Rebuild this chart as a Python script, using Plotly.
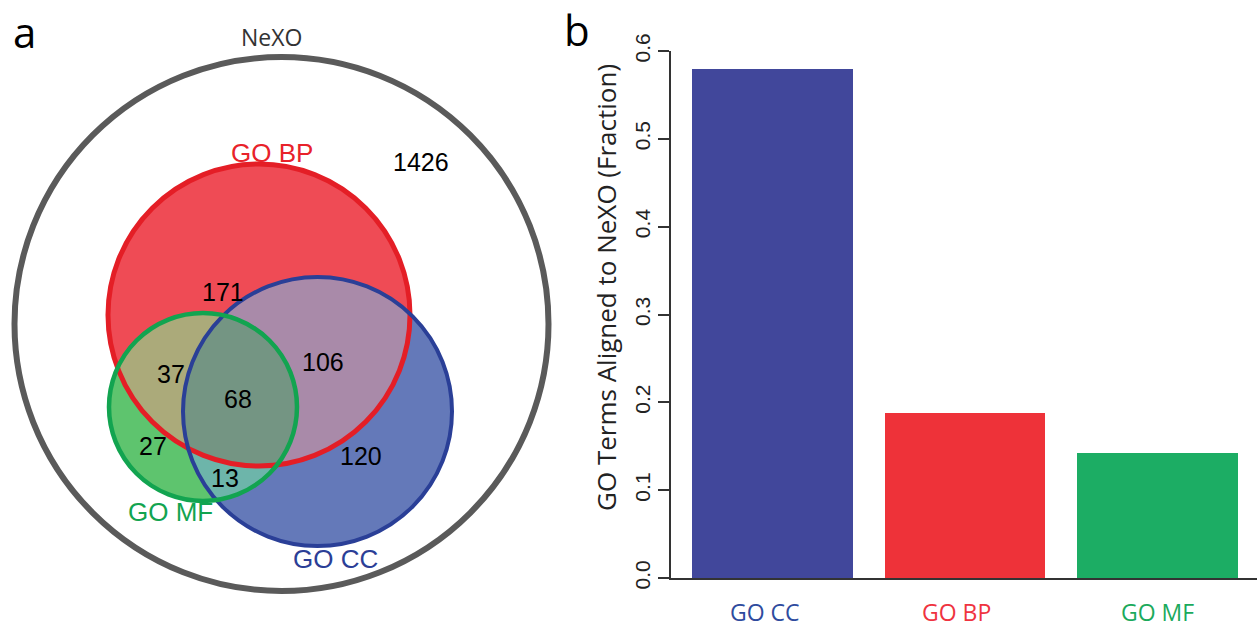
import numpy as np
import plotly.graph_objects as go

# ---------------- data ----------------
bar_categories = ["GO CC", "GO BP", "GO MF"]
bar_values = [0.58, 0.188, 0.142]
bar_colors = ["#41479B", "#EE3239", "#1CAD64"]
bar_label_colors = ["#2E4B9E", "#EF3340", "#1BAA5C"]
ytick_vals = [0.0, 0.1, 0.2, 0.3, 0.4, 0.5, 0.6]
ytick_text = ["0.0", "0.1", "0.2", "0.3", "0.4", "0.5", "0.6"]
y_title = "GO Terms Aligned to NeXO (Fraction)"

venn_set_names = ["NeXO", "GO BP", "GO CC", "GO MF"]
venn_region_names = ["NeXO only", "BP only", "BP&CC", "BP&MF", "BP&CC&MF", "MF only", "CC only", "CC&MF"]
venn_region_counts = [1426, 171, 106, 37, 68, 27, 120, 13]

# ---------------- layout geometry (pixel space) ----------------
W, H = 1257, 630
circ = {
    "NeXO": (281.5, 324.0, 267.0),
    "GO BP": (259.0, 315.0, 151.0),
    "GO CC": (317.5, 411.5, 134.5),
    "GO MF": (203.0, 407.0, 94.0),
}
outline_colors = {"NeXO": "#5A5A5A", "GO BP": "#E41E26", "GO CC": "#2A3F97", "GO MF": "#12A450"}
outline_widths = {"NeXO": 6, "GO BP": 5, "GO CC": 4, "GO MF": 4.5}
fill_single = {"GO BP": "#EF4B55", "GO CC": "#6479B9", "GO MF": "#5EC46E"}
fill_multi = [
    (("GO BP", "GO CC"), "#A98AA9"),
    (("GO BP", "GO MF"), "#ABAA7A"),
    (("GO CC", "GO MF"), "#6DB5AA"),
    (("GO BP", "GO CC", "GO MF"), "#749583"),
]
set_label_pos = {"NeXO": (271.5, 37), "GO BP": (271.5, 153), "GO CC": (335.5, 559), "GO MF": (170.5, 512)}
set_label_font = {"NeXO": "Open Sans", "GO BP": "Liberation Sans", "GO CC": "Liberation Sans", "GO MF": "Liberation Sans"}
set_label_size = {"NeXO": 23, "GO BP": 26, "GO CC": 26, "GO MF": 26}
set_label_color = {"NeXO": "#333333", "GO BP": "#E8222A", "GO CC": "#2B3E96", "GO MF": "#12A450"}
region_pos = [(421, 162), (223, 292), (322.5, 362), (171, 374), (238, 399), (152.5, 446), (361, 456), (225, 477.5)]
bar_label_shift = [-7, -8, 0]


def region_path(names, n=1440):
    cs = [circ[k] for k in names]
    pts = []
    for i, (cx, cy, r) in enumerate(cs):
        t = np.linspace(0, 2 * np.pi, n, endpoint=False)
        xs = cx + r * np.cos(t)
        ys = cy + r * np.sin(t)
        mask = np.ones(n, bool)
        for j, (ox, oy, orr) in enumerate(cs):
            if j == i:
                continue
            mask &= (xs - ox) ** 2 + (ys - oy) ** 2 <= orr ** 2 + 1e-6
        pts += list(zip(xs[mask], ys[mask]))
    pts = np.array(pts)
    c = pts.mean(axis=0)
    ang = np.arctan2(pts[:, 1] - c[1], pts[:, 0] - c[0])
    pts = pts[np.argsort(ang)]
    return "M " + " L ".join(f"{x:.2f},{y:.2f}" for x, y in pts) + " Z"


fig = go.Figure()

fig.add_trace(go.Bar(
    x=bar_categories, y=bar_values, marker=dict(color=bar_colors, line=dict(width=0)),
    width=0.834, xaxis="x", yaxis="y", showlegend=False, hoverinfo="skip",
))
fig.add_trace(go.Scatter(x=[0], y=[0], xaxis="x2", yaxis="y2", mode="markers",
                         marker=dict(opacity=0), showlegend=False, hoverinfo="skip"))

shapes = []
for k in ["GO BP", "GO CC", "GO MF"]:
    cx, cy, r = circ[k]
    shapes.append(dict(type="circle", xref="x2", yref="y2", x0=cx - r, x1=cx + r, y0=cy - r, y1=cy + r,
                       fillcolor=fill_single[k], line=dict(width=0), layer="below"))
for names, col in fill_multi:
    shapes.append(dict(type="path", xref="x2", yref="y2", path=region_path(names),
                       fillcolor=col, line=dict(width=0), layer="below"))
for k in ["NeXO", "GO BP", "GO CC", "GO MF"]:
    cx, cy, r = circ[k]
    shapes.append(dict(type="circle", xref="x2", yref="y2", x0=cx - r, x1=cx + r, y0=cy - r, y1=cy + r,
                       fillcolor="rgba(0,0,0,0)", line=dict(width=outline_widths[k], color=outline_colors[k]),
                       layer="above"))

annotations = []
for k in venn_set_names:
    x, y = set_label_pos[k]
    annotations.append(dict(x=x, y=y, xref="x2", yref="y2", text=k, showarrow=False,
                            xanchor="center", yanchor="middle",
                            font=dict(family=set_label_font[k], size=set_label_size[k], color=set_label_color[k])))
for (x, y), v in zip(region_pos, venn_region_counts):
    annotations.append(dict(x=x, y=y, xref="x2", yref="y2", text=str(v), showarrow=False,
                            xanchor="center", yanchor="middle",
                            font=dict(family="Liberation Sans", size=25, color="#000000")))
annotations.append(dict(x=24, y=31, xref="x2", yref="y2", text="a", showarrow=False,
                        xanchor="center", yanchor="middle",
                        font=dict(family="Open Sans", size=42, color="#000000")))
annotations.append(dict(x=577, y=29, xref="x2", yref="y2", text="b", showarrow=False,
                        xanchor="center", yanchor="middle",
                        font=dict(family="Open Sans", size=42, color="#000000")))
for cat, col, dx in zip(bar_categories, bar_label_colors, bar_label_shift):
    annotations.append(dict(x=cat, y=1 - 612 / H, xref="x", yref="paper", text=cat, showarrow=False,
                            xanchor="center", yanchor="middle",
                            xshift=dx, font=dict(family="Open Sans", size=23, color=col)))
annotations.append(dict(x=606 / W, y=1 - 288 / H, xref="paper", yref="paper", text=y_title, textangle=-90,
                        xanchor="center", yanchor="middle",
                        showarrow=False, font=dict(family="Open Sans", size=26, color="#222222")))

x_left = 670.7 / W
fig.update_layout(
    template="none",
    width=W, height=H, margin=dict(l=0, r=0, t=0, b=0, autoexpand=False),
    paper_bgcolor="white", plot_bgcolor="rgba(0,0,0,0)",
    xaxis=dict(domain=[x_left, 1.0], anchor="y", range=[-0.526, 2.518], showticklabels=False,
               showline=True, linecolor="#333333", linewidth=1.5, ticks="", showgrid=False, zeroline=False,
               automargin=False),
    yaxis=dict(domain=[1 - 578 / H, 1 - 51 / H], anchor="x", range=[0, 0.6], tickvals=ytick_vals,
               ticktext=ytick_text, tickangle=-90, ticks="outside", ticklen=11, tickwidth=1.5,
               tickcolor="#333333", showline=True, linecolor="#333333", linewidth=1.5, showgrid=False,
               zeroline=False, automargin=False,
               tickfont=dict(family="Liberation Sans", size=21, color="#222222")),
    xaxis2=dict(domain=[0, 1], anchor="y2", range=[0, W], visible=False, fixedrange=True, automargin=False),
    yaxis2=dict(domain=[0, 1], anchor="x2", range=[H, 0], visible=False, fixedrange=True, automargin=False),
    shapes=shapes, annotations=annotations, bargap=0,
)

fig.write_html("out.html", config={"displayModeBar": False},
               post_script="document.body.style.margin='0px';document.body.style.overflow='hidden';")
